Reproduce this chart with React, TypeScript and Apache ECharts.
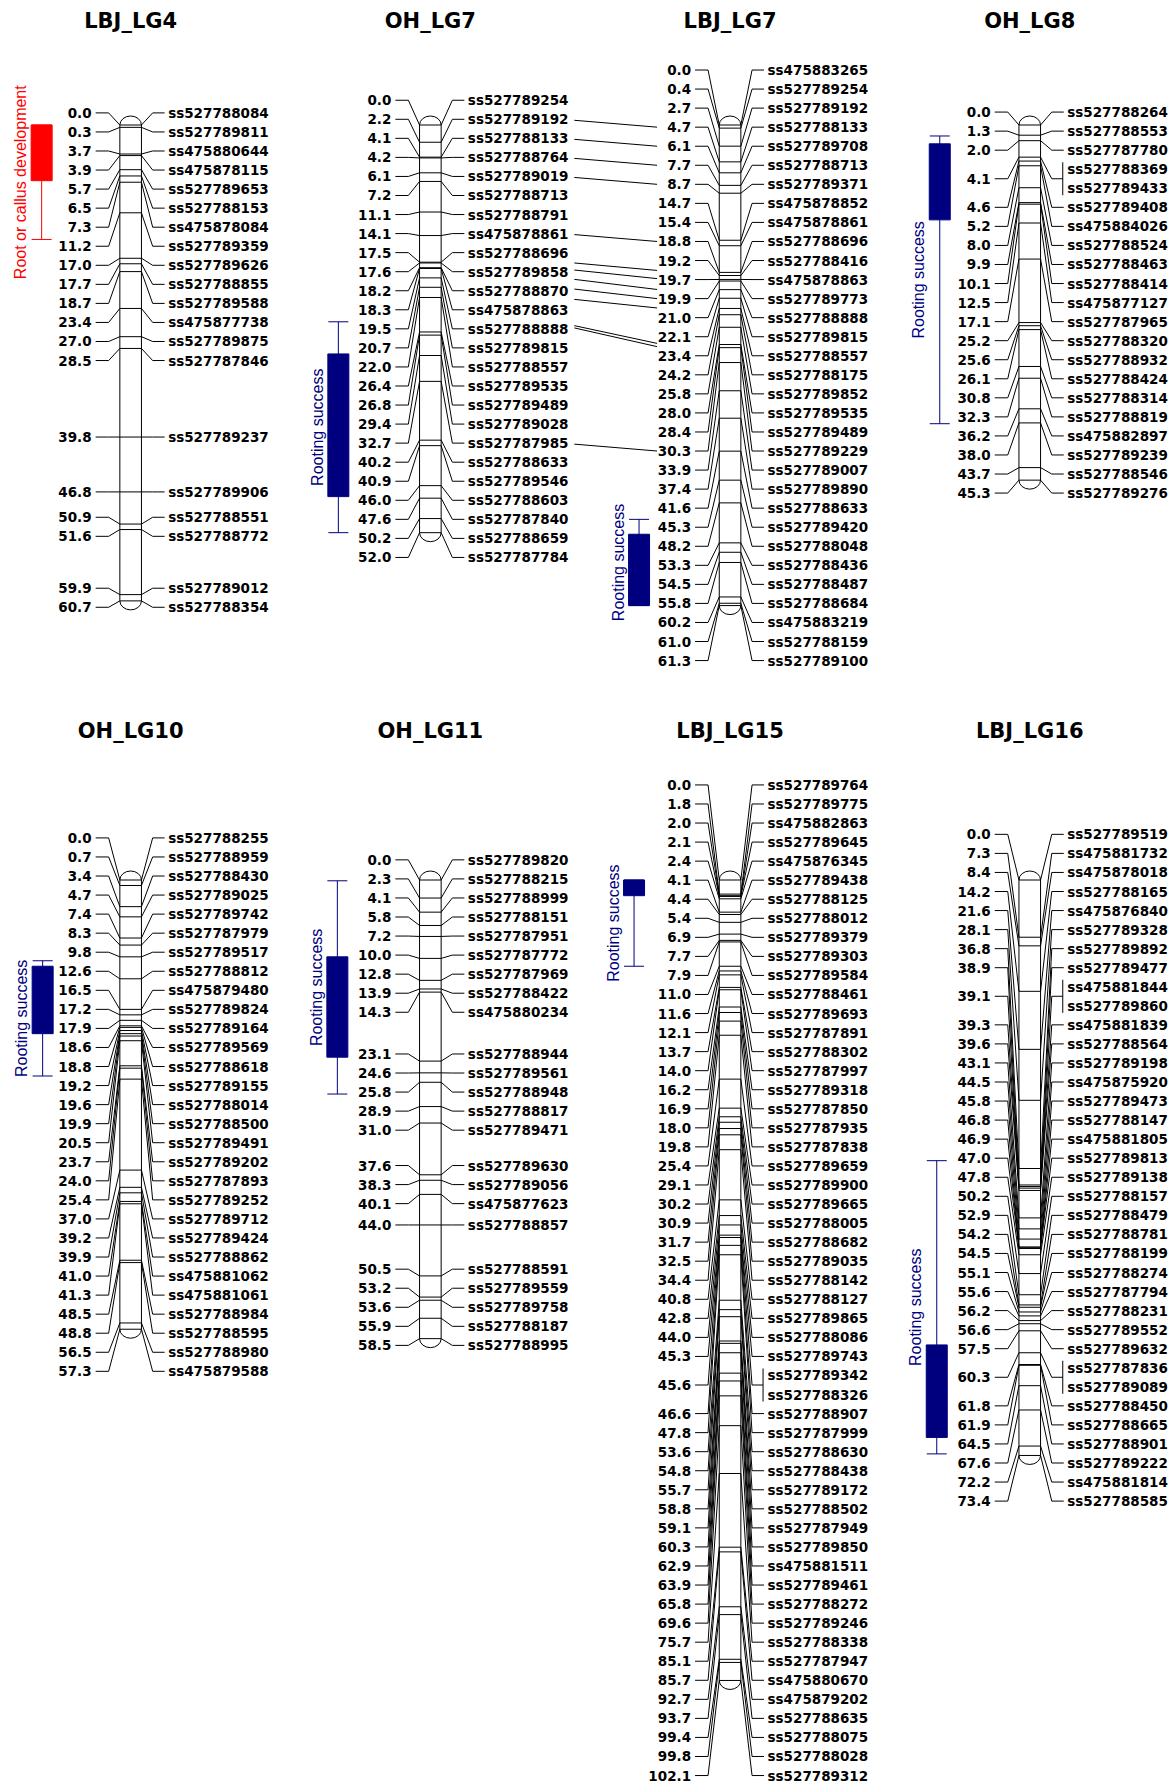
import React, { useEffect, useRef } from "react";
import * as echarts from "echarts";

// ---------------- DATA ----------------
const lbjLg4Pos = [0.0, 0.3, 3.7, 3.9, 5.7, 6.5, 7.3, 11.2, 17.0, 17.7, 18.7, 23.4, 27.0, 28.5, 39.8, 46.8, 50.9, 51.6, 59.9, 60.7];
const lbjLg4Names = ["ss527788084", "ss527789811", "ss475880644", "ss475878115", "ss527789653", "ss527788153", "ss475878084", "ss527789359", "ss527789626", "ss527788855", "ss527789588", "ss475877738", "ss527789875", "ss527787846", "ss527789237", "ss527789906", "ss527788551", "ss527788772", "ss527789012", "ss527788354"];

const ohLg7Pos = [0.0, 2.2, 4.1, 4.2, 6.1, 7.2, 11.1, 14.1, 17.5, 17.6, 18.2, 18.3, 19.5, 20.7, 22.0, 26.4, 26.8, 29.4, 32.7, 40.2, 40.9, 46.0, 47.6, 50.2, 52.0];
const ohLg7Names = ["ss527789254", "ss527789192", "ss527788133", "ss527788764", "ss527789019", "ss527788713", "ss527788791", "ss475878861", "ss527788696", "ss527789858", "ss527788870", "ss475878863", "ss527788888", "ss527789815", "ss527788557", "ss527789535", "ss527789489", "ss527789028", "ss527787985", "ss527788633", "ss527789546", "ss527788603", "ss527787840", "ss527788659", "ss527787784"];

const lbjLg7Pos = [0.0, 0.4, 2.7, 4.7, 6.1, 7.7, 8.7, 14.7, 15.4, 18.8, 19.2, 19.7, 19.9, 21.0, 22.1, 23.4, 24.2, 25.8, 28.0, 28.4, 30.3, 33.9, 37.4, 41.6, 45.3, 48.2, 53.3, 54.5, 55.8, 60.2, 61.0, 61.3];
const lbjLg7Names = ["ss475883265", "ss527789254", "ss527789192", "ss527788133", "ss527789708", "ss527788713", "ss527789371", "ss475878852", "ss475878861", "ss527788696", "ss527788416", "ss475878863", "ss527789773", "ss527788888", "ss527789815", "ss527788557", "ss527788175", "ss527789852", "ss527789535", "ss527789489", "ss527789229", "ss527789007", "ss527789890", "ss527788633", "ss527789420", "ss527788048", "ss527788436", "ss527788487", "ss527788684", "ss475883219", "ss527788159", "ss527789100"];

const ohLg8Pos = [0.0, 1.3, 2.0, 4.1, 4.1, 4.6, 5.2, 8.0, 9.9, 10.1, 12.5, 17.1, 25.2, 25.6, 26.1, 30.8, 32.3, 36.2, 38.0, 43.7, 45.3];
const ohLg8Names = ["ss527788264", "ss527788553", "ss527787780", "ss527788369", "ss527789433", "ss527789408", "ss475884026", "ss527788524", "ss527788463", "ss527788414", "ss475877127", "ss527787965", "ss527788320", "ss527788932", "ss527788424", "ss527788314", "ss527788819", "ss475882897", "ss527789239", "ss527788546", "ss527789276"];

const ohLg10Pos = [0.0, 0.7, 3.4, 4.7, 7.4, 8.3, 9.8, 12.6, 16.5, 17.2, 17.9, 18.6, 18.8, 19.2, 19.6, 19.9, 20.5, 23.7, 24.0, 25.4, 37.0, 39.2, 39.9, 41.0, 41.3, 48.5, 48.8, 56.5, 57.3];
const ohLg10Names = ["ss527788255", "ss527788959", "ss527788430", "ss527789025", "ss527789742", "ss527787979", "ss527789517", "ss527788812", "ss475879480", "ss527789824", "ss527789164", "ss527789569", "ss527788618", "ss527789155", "ss527788014", "ss527788500", "ss527789491", "ss527789202", "ss527787893", "ss527789252", "ss527789712", "ss527789424", "ss527788862", "ss475881062", "ss475881061", "ss527788984", "ss527788595", "ss527788980", "ss475879588"];

const ohLg11Pos = [0.0, 2.3, 4.1, 5.8, 7.2, 10.0, 12.8, 13.9, 14.3, 23.1, 24.6, 25.8, 28.9, 31.0, 37.6, 38.3, 40.1, 44.0, 50.5, 53.2, 53.6, 55.9, 58.5];
const ohLg11Names = ["ss527789820", "ss527788215", "ss527788999", "ss527788151", "ss527787951", "ss527787772", "ss527787969", "ss527788422", "ss475880234", "ss527788944", "ss527789561", "ss527788948", "ss527788817", "ss527789471", "ss527789630", "ss527789056", "ss475877623", "ss527788857", "ss527788591", "ss527789559", "ss527789758", "ss527788187", "ss527788995"];

const lbjLg15Pos = [0.0, 1.8, 2.0, 2.1, 2.4, 4.1, 4.4, 5.4, 6.9, 7.7, 7.9, 11.0, 11.6, 12.1, 13.7, 14.0, 16.2, 16.9, 18.0, 19.8, 25.4, 29.1, 30.2, 30.9, 31.7, 32.5, 34.4, 40.8, 42.8, 44.0, 45.3, 45.6, 45.6, 46.6, 47.8, 53.6, 54.8, 55.7, 58.8, 59.1, 60.3, 62.9, 63.9, 65.8, 69.6, 75.7, 85.1, 85.7, 92.7, 93.7, 99.4, 99.8, 102.1];
const lbjLg15Names = ["ss527789764", "ss527789775", "ss475882863", "ss527789645", "ss475876345", "ss527789438", "ss527788125", "ss527788012", "ss527789379", "ss527789303", "ss527789584", "ss527788461", "ss527789693", "ss527787891", "ss527788302", "ss527787997", "ss527789318", "ss527787850", "ss527787935", "ss527787838", "ss527789659", "ss527789900", "ss527789665", "ss527788005", "ss527788682", "ss527789035", "ss527788142", "ss527788127", "ss527789865", "ss527788086", "ss527789743", "ss527789342", "ss527788326", "ss527788907", "ss527787999", "ss527788630", "ss527788438", "ss527789172", "ss527788502", "ss527787949", "ss527789850", "ss475881511", "ss527789461", "ss527788272", "ss527789246", "ss527788338", "ss527787947", "ss475880670", "ss475879202", "ss527788635", "ss527788075", "ss527788028", "ss527789312"];

const lbjLg16Pos = [0.0, 7.3, 8.4, 14.2, 21.6, 28.1, 36.8, 38.9, 39.1, 39.1, 39.3, 39.6, 43.1, 44.5, 45.8, 46.8, 46.9, 47.0, 47.8, 50.2, 52.9, 54.2, 54.5, 55.1, 55.6, 56.2, 56.6, 57.5, 60.3, 60.3, 61.8, 61.9, 64.5, 67.6, 72.2, 73.4];
const lbjLg16Names = ["ss527789519", "ss475881732", "ss475878018", "ss527788165", "ss475876840", "ss527789328", "ss527789892", "ss527789477", "ss475881844", "ss527789860", "ss475881839", "ss527788564", "ss527789198", "ss475875920", "ss527789473", "ss527788147", "ss475881805", "ss527789813", "ss527789138", "ss527788157", "ss527788479", "ss527788781", "ss527788199", "ss527788274", "ss527787794", "ss527788231", "ss527789552", "ss527789632", "ss527787836", "ss527789089", "ss527788450", "ss527788665", "ss527788901", "ss527789222", "ss475881814", "ss527788585"];

// QTL intervals (cM): [outer start, box start, box end, outer end]
const qtlLbjLg4 = [0.0, 0.0, 7.1, 14.6];
const qtlOhLg7 = [25.1, 29.2, 47.4, 52.0];
const qtlLbjLg7 = [50.3, 52.2, 61.3, 61.3];
const qtlOhLg8 = [1.4, 2.4, 12.1, 38.1];
const qtlOhLg10 = [10.3, 11.0, 19.6, 25.0];
const qtlOhLg11 = [0.1, 9.8, 22.6, 27.3];
const qtlLbjLg15 = [0.0, 0.0, 2.0, 11.0];
const qtlLbjLg16 = [35.8, 59.3, 71.1, 73.2];

// homologous marker links between OH_LG7 and LBJ_LG7 (as drawn)
const linkFrom = ["ss527789192", "ss527788133", "ss527788764", "ss527789019", "ss475878861", "ss527788696", "ss527789858", "ss527789858", "ss527788870", "ss527788870", "ss527788888", "ss527788888", "ss527787985"];
const linkTo = ["ss527788133", "ss527789708", "ss527788713", "ss527789371", "ss527788696", "ss527788416", "ss475878863", "ss475878863", "ss527789773", "ss527789773", "ss527789815", "ss527789815", "ss527789229"];
const linkFromShift = [0, 0, 0, 0, 0, 0.49, -0.14, 0.35, -0.14, 0.4, -0.22, -0.1, 0];
const linkToShift = [0, 0, 0, 0, 0, 0.52, -0.05, 0.52, 0, 0.49, 0.35, 0.52, 0];

// ---------------- LAYOUT / STYLE ----------------
const SCALE = 7.84; // px per cM
const SP = 19.05; // label spacing
const HALF_W = 10.8;
const CAP_H = 9;
const COL_LEFT = 130.65;
const COL_SPAN = 899.1;
const NUM_FONT = 'bold 13.5px "DejaVu Sans", sans-serif';
const TITLE_FONT = 'bold 21px "DejaVu Sans", sans-serif';
const QTL_FONT = '16px "Liberation Sans", Arial, sans-serif';
const RED = "#FF0000";
const NAVY = "#00007F";

const ROWS = [
  { top: 125, titleY: 21 },
  { top: 880, titleY: 731 },
];

const CHROMS: any[] = [
  { title: "LBJ_LG4", row: 0, col: 0, pos: lbjLg4Pos, names: lbjLg4Names, qtl: qtlLbjLg4, qtlLabel: "Root or callus development", color: RED, qtlDx: -89 },
  { title: "OH_LG7", row: 0, col: 1, pos: ohLg7Pos, names: ohLg7Names, qtl: qtlOhLg7, qtlLabel: "Rooting success", color: NAVY, qtlDx: -92 },
  { title: "LBJ_LG7", row: 0, col: 2, pos: lbjLg7Pos, names: lbjLg7Names, qtl: qtlLbjLg7, qtlLabel: "Rooting success", color: NAVY, qtlDx: -91 },
  { title: "OH_LG8", row: 0, col: 3, pos: ohLg8Pos, names: ohLg8Names, qtl: qtlOhLg8, qtlLabel: "Rooting success", color: NAVY, qtlDx: -90 },
  { title: "OH_LG10", row: 1, col: 0, pos: ohLg10Pos, names: ohLg10Names, qtl: qtlOhLg10, qtlLabel: "Rooting success", color: NAVY, qtlDx: -88 },
  { title: "OH_LG11", row: 1, col: 1, pos: ohLg11Pos, names: ohLg11Names, qtl: qtlOhLg11, qtlLabel: "Rooting success", color: NAVY, qtlDx: -93 },
  { title: "LBJ_LG15", row: 1, col: 2, pos: lbjLg15Pos, names: lbjLg15Names, qtl: qtlLbjLg15, qtlLabel: "Rooting success", color: NAVY, qtlDx: -96 },
  { title: "LBJ_LG16", row: 1, col: 3, pos: lbjLg16Pos, names: lbjLg16Names, qtl: qtlLbjLg16, qtlLabel: "Rooting success", color: NAVY, qtlDx: -93 },
];

function spreadLabels(desired: number[], sp: number): number[] {
  let cl = desired.map((d, i) => ({ s: i, e: i, lo: d, hi: d }));
  const first = (c: any) => (c.lo + c.hi) / 2 - ((c.e - c.s) / 2) * sp;
  const last = (c: any) => (c.lo + c.hi) / 2 + ((c.e - c.s) / 2) * sp;
  let merged = true;
  while (merged) {
    merged = false;
    for (let i = 0; i < cl.length - 1; i++) {
      if (first(cl[i + 1]) - last(cl[i]) < sp - 0.01) {
        const a = cl[i], b = cl[i + 1];
        cl.splice(i, 2, { s: a.s, e: b.e, lo: Math.min(a.lo, b.lo), hi: Math.max(a.hi, b.hi) });
        merged = true;
        break;
      }
    }
  }
  const out: number[] = new Array(desired.length);
  cl.forEach((c) => {
    const f = first(c);
    for (let i = c.s; i <= c.e; i++) out[i] = f + (i - c.s) * sp;
  });
  return out;
}

function layoutChrom(ch: any, api: any) {
  const col = ch.col;
  const top = api.coord([col, 0]);
  const c = top[0];
  const y0 = top[1];
  const len = ch.pos[ch.pos.length - 1];
  const yL = api.coord([col, len])[1];
  const desired = ch.pos.map((p: number) => api.coord([col, p])[1]);
  const slots = spreadLabels(desired, SP);
  const groups: any[] = [];
  ch.pos.forEach((p: number, i: number) => {
    const g = groups[groups.length - 1];
    if (g && g.pos === p) g.idx.push(i);
    else groups.push({ pos: p, idx: [i], y: desired[i] });
  });
  groups.forEach((g) => {
    g.labelY = g.idx.reduce((s: number, i: number) => s + slots[i], 0) / g.idx.length;
  });
  return { c, y0, yL, desired, slots, groups };
}

const ln = (x1: number, y1: number, x2: number, y2: number, stroke = "#000") => ({
  type: "line",
  shape: { x1, y1, x2, y2 },
  style: { stroke, lineWidth: 1 },
});
const poly = (pts: number[][]) => ({
  type: "polyline",
  shape: { points: pts },
  style: { stroke: "#000", lineWidth: 1, fill: "none" },
});
const txt = (x: number, y: number, t: string, font: string, align: string, fill = "#000") => ({
  type: "text",
  x,
  y,
  style: { text: t, font, fill, align, verticalAlign: "middle" },
});

function renderChrom(ch: any, titleY: number) {
  return (params: any, api: any) => {
    const L = layoutChrom(ch, api);
    const { c, y0, yL } = L;
    const w = HALF_W;
    const kids: any[] = [];
    kids.push(txt(c, titleY, ch.title, TITLE_FONT, "center"));
    kids.push({
      type: "path",
      shape: {
        pathData: `M${c - w} ${y0}A${w} ${CAP_H} 0 0 1 ${c + w} ${y0}L${c + w} ${yL}A${w} ${CAP_H} 0 0 1 ${c - w} ${yL}Z`,
      },
      style: { fill: "#fff", stroke: "#000", lineWidth: 1 },
    });
    L.groups.forEach((g: any) => {
      kids.push(ln(c - w, g.y, c + w, g.y));
      kids.push(poly([[c - 35, g.labelY], [c - 22, g.labelY], [c - w, g.y]]));
      kids.push(txt(c - 39, g.labelY, g.pos.toFixed(1), NUM_FONT, "right"));
      if (g.idx.length === 1) {
        const sy = L.slots[g.idx[0]];
        kids.push(poly([[c + w, g.y], [c + 22, sy], [c + 34, sy]]));
      } else {
        const s0 = L.slots[g.idx[0]];
        const s1 = L.slots[g.idx[g.idx.length - 1]];
        kids.push(poly([[c + w, g.y], [c + 22, g.labelY], [c + 33, g.labelY]]));
        kids.push(ln(c + 33, s0 - 7, c + 33, s1 + 7));
      }
      g.idx.forEach((i: number) => kids.push(txt(c + 37.5, L.slots[i], ch.names[i], NUM_FONT, "left")));
    });
    // QTL
    const qy = ch.qtl.map((v: number) => api.coord([ch.col, v])[1]);
    const qx = c + ch.qtlDx;
    const col = ch.color;
    kids.push(ln(qx, qy[0], qx, qy[3], col));
    kids.push(ln(qx - 10, qy[0], qx + 10, qy[0], col));
    kids.push(ln(qx - 10, qy[3], qx + 10, qy[3], col));
    kids.push({
      type: "rect",
      shape: { x: qx - 10.5, y: qy[1], width: 21, height: qy[2] - qy[1] },
      style: { fill: col, stroke: col, lineWidth: 1 },
    });
    kids.push({
      type: "text",
      x: qx - 21,
      y: (qy[0] + qy[3]) / 2,
      rotation: Math.PI / 2,
      style: { text: ch.qtlLabel, font: QTL_FONT, fill: col, align: "center", verticalAlign: "middle" },
    });
    return { type: "group", children: kids };
  };
}

function renderLinks(params: any, api: any) {
  const A = layoutChrom(CHROMS[1], api);
  const B = layoutChrom(CHROMS[2], api);
  const kids: any[] = [];
  linkFrom.forEach((f, k) => {
    const ia = ohLg7Names.indexOf(f);
    const ib = lbjLg7Names.indexOf(linkTo[k]);
    if (ia < 0 || ib < 0) return;
    const ya = A.slots[ia] + linkFromShift[k] * SP + 1;
    const gB = B.groups.find((g: any) => g.idx.indexOf(ib) >= 0);
    const yb = gB.labelY + linkToShift[k] * SP;
    kids.push(ln(A.c + 144, ya, B.c - 73, yb));
  });
  return { type: "group", children: kids };
}

function buildOption() {
  const rowMax = ROWS.map((_, r) =>
    Math.max(...CHROMS.filter((ch) => ch.row === r).map((ch) => ch.pos[ch.pos.length - 1]))
  );
  const grid = ROWS.map((row, r) => ({
    left: COL_LEFT,
    width: COL_SPAN,
    top: row.top,
    height: rowMax[r] * SCALE,
    containLabel: false,
    outerBoundsMode: "none",
  }));
  const xAxis = ROWS.map((_, r) => ({ gridIndex: r, type: "value", min: 0, max: 3, show: false }));
  const yAxis = ROWS.map((_, r) => ({ gridIndex: r, type: "value", min: 0, max: rowMax[r], inverse: true, show: false }));
  const series: any[] = CHROMS.map((ch) => ({
    type: "custom",
    name: ch.title,
    coordinateSystem: "cartesian2d",
    xAxisIndex: ch.row,
    yAxisIndex: ch.row,
    clip: false,
    silent: true,
    data: [[ch.col, 0]],
    renderItem: renderChrom(ch, ROWS[ch.row].titleY),
  }));
  series.push({
    type: "custom",
    name: "links",
    coordinateSystem: "cartesian2d",
    xAxisIndex: 0,
    yAxisIndex: 0,
    clip: false,
    silent: true,
    data: [[1, 0]],
    renderItem: renderLinks,
  });
  return {
    animation: false,
    backgroundColor: "#fff",
    grid,
    xAxis,
    yAxis,
    series,
  };
}

export default function App() {
  const ref = useRef<HTMLDivElement>(null);
  useEffect(() => {
    document.body.style.margin = "0";
    const chart = echarts.init(ref.current as HTMLDivElement, null, { renderer: "svg" });
    chart.setOption(buildOption() as any);
    return () => chart.dispose();
  }, []);
  return <div ref={ref} style={{ width: 1174, height: 1783, background: "#fff" }} />;
}
